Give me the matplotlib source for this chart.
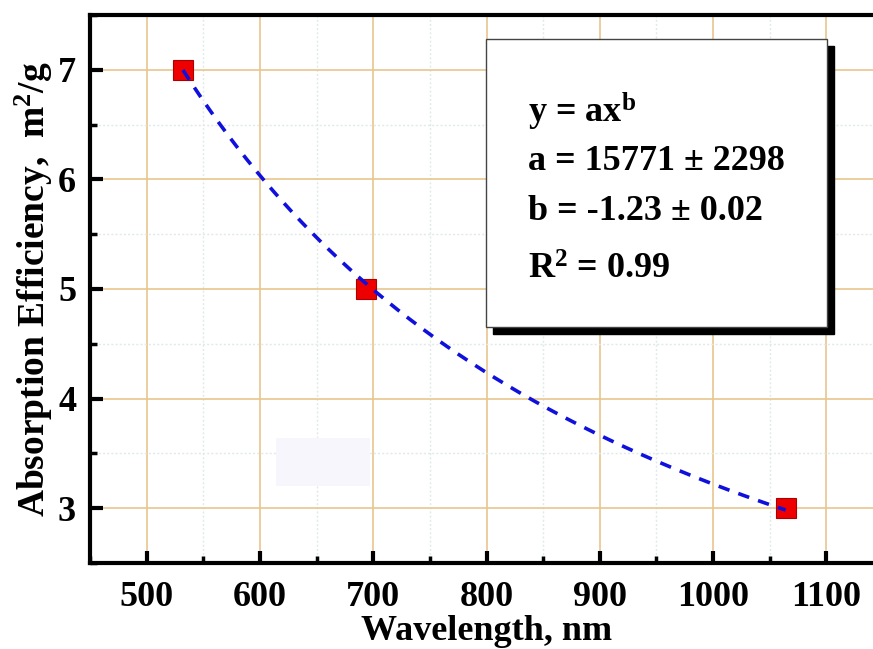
import numpy as np
import matplotlib
matplotlib.use("Agg")
import matplotlib.pyplot as plt
from matplotlib.patches import Rectangle
from matplotlib.ticker import MultipleLocator

# measured points
wavelength = [532, 694, 1064]
efficiency = [7.0, 5.0, 3.0]

# power-law fit shown in the box
fit_a = 15771
fit_b = -1.23
box_lines = ["y = ax$^{\\mathregular{b}}$",
             "a = 15771 \u00b1 2298",
             "b = -1.23 \u00b1 0.02",
             "R$^{\\mathregular{2}}$ = 0.99"]

plt.rcParams['font.family'] = ['Liberation Serif', 'DejaVu Serif']
plt.rcParams['font.weight'] = 'bold'
plt.rcParams['mathtext.default'] = 'regular'

fig = plt.figure(figsize=(8.73, 6.49), dpi=100)
ax = fig.add_axes([0.1031, 0.1325, 0.9084, 0.8444])

ax.set_xlim(450, 1150)
ax.set_ylim(2.5, 7.5)
ax.xaxis.set_major_locator(MultipleLocator(100))
ax.xaxis.set_minor_locator(MultipleLocator(50))
ax.yaxis.set_major_locator(MultipleLocator(1))
ax.yaxis.set_minor_locator(MultipleLocator(0.5))

ax.grid(which='major', color='#e8c68e', lw=1.2, ls='-')
ax.grid(which='minor', color='#e0eaea', lw=1.0, ls=(0, (1.5, 1.5)))
ax.set_axisbelow(True)

# faint patch in the original
ax.add_patch(Rectangle((614, 3.2), 83, 0.44, facecolor='#f6f6fc', edgecolor='none', zorder=1))

xx = np.linspace(wavelength[0], wavelength[-1], 200)
ax.plot(xx, fit_a * xx ** fit_b, color='#1010dd', lw=2.6, ls=(0, (3.2, 2.6)), zorder=3)
ax.plot(wavelength, efficiency, 's', ms=14.5, color='#ee0000', mec='#aa0000', mew=0.8, zorder=2)

for side in ['left', 'bottom', 'top', 'right']:
    ax.spines[side].set_linewidth(3)
ax.tick_params(which='major', direction='in', length=9, width=3, labelsize=26, pad=10)
ax.tick_params(which='minor', direction='in', length=5, width=2.5)
ax.tick_params(axis='x', pad=13)
for lab in ax.get_xticklabels() + ax.get_yticklabels():
    lab.set_fontweight('bold')

ax.set_xlabel('Wavelength, nm', fontsize=26, fontweight='bold', labelpad=1)
ax.set_ylabel('Absorption Efficiency,  m$^{\\mathregular{2}}$/g', fontsize=27, fontweight='bold', labelpad=2)

# text box with shadow (figure pixel coords)
W, H = 873, 649
bx0, by0, bx1, by1 = 486, 39, 827, 327
fig.patches.append(Rectangle(((bx0 + 7) / W, 1 - (by1 + 7) / H), (bx1 - bx0) / W, (by1 - by0) / H,
                             transform=fig.transFigure, facecolor='black', edgecolor='black', zorder=5))
fig.patches.append(Rectangle((bx0 / W, 1 - by1 / H), (bx1 - bx0) / W, (by1 - by0) / H,
                             transform=fig.transFigure, facecolor='white', edgecolor='#444444', lw=1, zorder=6))
ys = [112, 162, 212, 270]
for txt, y in zip(box_lines, ys):
    fig.text(528 / W, 1 - y / H, txt, fontsize=26, fontweight='bold', va='center', ha='left', zorder=7)

fig.savefig('out.png', dpi=100)
